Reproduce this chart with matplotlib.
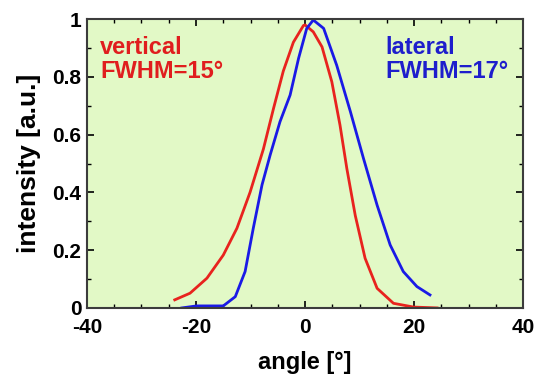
import matplotlib
matplotlib.use("Agg")
import matplotlib.pyplot as plt
from matplotlib.ticker import MultipleLocator

plt.rcParams["font.family"] = ["Liberation Sans", "DejaVu Sans"]
plt.rcParams["font.weight"] = "bold"
plt.rcParams["axes.unicode_minus"] = False

# vertical far-field profile (red)
vert_angle = [-23.9, -21.1, -18.0, -15.0, -12.5, -10.1, -7.65, -5.8, -4.0, -2.15,
              -0.3, 0.0, 1.5, 3.1, 4.9, 6.4, 7.65, 9.2, 11.0, 13.2, 16.2, 19.9, 24.2]
vert_int = [0.028, 0.051, 0.103, 0.183, 0.276, 0.40, 0.55, 0.69, 0.82, 0.92,
            0.978, 0.98, 0.956, 0.904, 0.783, 0.633, 0.483, 0.32, 0.172, 0.068,
            0.016, 0.003, 0.0]

# lateral far-field profile (blue)
lat_angle = [-22.6, -19.9, -15.0, -12.8, -11.0, -9.5, -7.9, -6.4, -4.6, -2.75,
             -1.2, 0.3, 1.5, 3.4, 5.8, 8.3, 10.7, 13.2, 15.6, 18.0, 20.5, 22.9]
lat_int = [0.0, 0.007, 0.007, 0.039, 0.126, 0.276, 0.426, 0.53, 0.645, 0.737,
           0.864, 0.968, 0.997, 0.968, 0.84, 0.68, 0.518, 0.356, 0.218, 0.126,
           0.074, 0.045]

y_ticks = [0, 0.2, 0.4, 0.6, 0.8, 1.0]
y_labels = ["0", "0.2", "0.4", "0.6", "0.8", "1"]

fig = plt.figure(figsize=(5.4, 3.83), dpi=100)
ax = fig.add_axes([0.161, 0.196, 0.808, 0.754])
ax.set_facecolor("#e2f9c6")

ax.plot(vert_angle, vert_int, color="#e8231e", lw=2.0, solid_joinstyle="round")
ax.plot(lat_angle, lat_int, color="#1a1ae6", lw=2.0, solid_joinstyle="round")

ax.set_xlim(-40, 40); ax.set_ylim(0, 1)
ax.xaxis.set_major_locator(MultipleLocator(20))
ax.xaxis.set_minor_locator(MultipleLocator(5))
ax.yaxis.set_minor_locator(MultipleLocator(0.1))
ax.set_yticks(y_ticks, y_labels)
ax.tick_params(which="both", direction="in", top=True, right=True, labelsize=15)
ax.tick_params(axis="x", pad=7)
ax.tick_params(axis="y", pad=4)
ax.tick_params(which="major", length=5, width=1.2)
ax.tick_params(which="minor", length=3, width=1.0)
for s in ax.spines.values():
    s.set_color("#3c3c3c"); s.set_linewidth(1.5)

ax.set_xlabel("angle [°]", fontsize=17, fontweight="bold", labelpad=10)
ax.set_ylabel("intensity [a.u.]", fontsize=19, fontweight="bold", labelpad=8)

ax.text(0.03, 0.94, "vertical\nFWHM=15°", transform=ax.transAxes, color="#e01e1e",
        fontsize=17, fontweight="bold", va="top", ha="left", linespacing=1.05)
ax.text(0.685, 0.94, "lateral\nFWHM=17°", transform=ax.transAxes, color="#1e1ecc",
        fontsize=17, fontweight="bold", va="top", ha="left", linespacing=1.05)

fig.savefig("out.png", dpi=100)
plt.close(fig)
